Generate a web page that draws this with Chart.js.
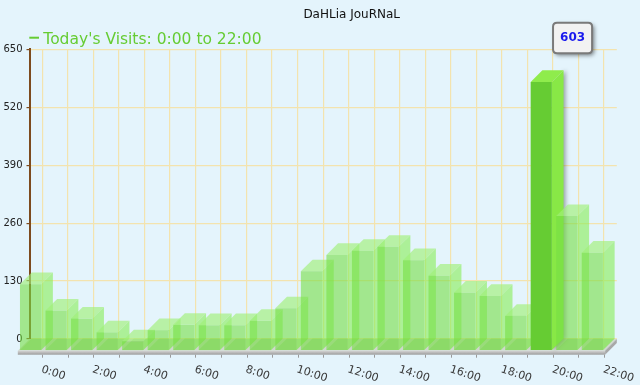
<!DOCTYPE html>
<html><head><meta charset="utf-8">
<script src="https://cdn.jsdelivr.net/npm/chart.js@4.4.1/dist/chart.umd.min.js"></script>
<style>
html,body{margin:0;padding:0;background:#e4f4fc;overflow:hidden}
#wrap{width:640px;height:385px;position:relative}
</style>
</head><body><div id="wrap"><canvas id="c" width="640" height="385"></canvas></div>
<script>
// ---- data ----
const chartTitle = 'DaHLia JouRNaL';
const seriesName = "Today's Visits: 0:00 to 22:00";
const hours = ['0:00','1:00','2:00','3:00','4:00','5:00','6:00','7:00','8:00','9:00','10:00','11:00',
               '12:00','13:00','14:00','15:00','16:00','17:00','18:00','19:00','20:00','21:00','22:00'];
const visits = [149, 90, 72, 41, 21, 46, 58, 57, 57, 67, 95, 178,
                215, 224, 233, 203, 168, 130, 123, 78, 603, 302, 220];
const yTicks = [0, 130, 260, 390, 520, 650];
const labelEvery = 2;

// ---- style ----
const FONT = '"DejaVu Sans", Verdana, sans-serif';
const DX = 11.7, DY = 11.7;
const GRID = '#f3e3ae';
const AXIS = '#7d4b1e';

Chart.Tooltip.positioners.barTop = function(items) {
  if (!items.length) return false;
  const el = items[0].element;
  return { x: el.x + 19.6, y: el.y - 17 };
};

function rr(ctx, x, y, w, h, r) {
  ctx.beginPath();
  ctx.moveTo(x + r, y); ctx.lineTo(x + w - r, y); ctx.quadraticCurveTo(x + w, y, x + w, y + r);
  ctx.lineTo(x + w, y + h - r); ctx.quadraticCurveTo(x + w, y + h, x + w - r, y + h);
  ctx.lineTo(x + r, y + h); ctx.quadraticCurveTo(x, y + h, x, y + h - r);
  ctx.lineTo(x, y + r); ctx.quadraticCurveTo(x, y, x + r, y); ctx.closePath();
}

const deco = {
  id: 'deco',
  beforeDatasetsDraw(chart) {
    const { ctx, chartArea: a, scales: { x } } = chart;
    ctx.save();
    // base slab top face
    ctx.beginPath();
    ctx.moveTo(a.left - DX, a.bottom + DY); ctx.lineTo(a.left, a.bottom);
    ctx.lineTo(a.right, a.bottom); ctx.lineTo(a.right - DX, a.bottom + DY); ctx.closePath();
    ctx.fillStyle = '#cfd8cc'; ctx.fill();
    // front strip
    const g = ctx.createLinearGradient(0, a.bottom + DY, 0, a.bottom + DY + 4);
    g.addColorStop(0, '#d6d6d6'); g.addColorStop(1, '#9c9c9c');
    ctx.fillStyle = g; ctx.fillRect(a.left - DX, a.bottom + DY, a.right - a.left, 4);
    // right side
    ctx.beginPath();
    ctx.moveTo(a.right - DX, a.bottom + DY); ctx.lineTo(a.right, a.bottom);
    ctx.lineTo(a.right, a.bottom + 4); ctx.lineTo(a.right - DX, a.bottom + DY + 4); ctx.closePath();
    ctx.fillStyle = '#a8a8a8'; ctx.fill();
    // tick marks
    ctx.strokeStyle = '#9a9a9a'; ctx.lineWidth = 1;
    x.ticks.forEach((t, i) => {
      const px = Math.round(x.getPixelForTick(i)) + 0.5;
      ctx.beginPath(); ctx.moveTo(px, a.bottom + DY + 4); ctx.lineTo(px, a.bottom + DY + 7); ctx.stroke();
    });
    // rotated labels
    ctx.fillStyle = '#3a3a3a'; ctx.font = '11px ' + FONT;
    ctx.textAlign = 'left'; ctx.textBaseline = 'top';
    hours.forEach((h, i) => {
      if (i % labelEvery) return;
      const px = x.getPixelForTick(i);
      ctx.save(); ctx.translate(px + 1, a.bottom + 25); ctx.rotate(18 * Math.PI / 180);
      ctx.fillText(h, 0, 0); ctx.restore();
    });
    ctx.restore();
  },
  beforeDatasetDraw(chart, args) {
    const ctx = chart.ctx;
    const active = new Set(chart.getActiveElements().map(e => e.index));
    const els = args.meta.data;
    ctx.save();
    // bottom faces
    els.forEach((el, i) => {
      if (active.has(i)) return;
      const p = el.getProps(['x', 'y', 'base', 'width'], true);
      const l = p.x - p.width / 2, r = p.x + p.width / 2;
      ctx.beginPath();
      ctx.moveTo(l - DX, p.base + DY); ctx.lineTo(l, p.base); ctx.lineTo(r, p.base); ctx.lineTo(r - DX, p.base + DY); ctx.closePath();
      ctx.fillStyle = 'rgba(110,205,70,0.35)'; ctx.fill();
    });
    // side faces
    els.forEach((el, i) => {
      const p = el.getProps(['x', 'y', 'base', 'width'], true);
      const r = p.x + p.width / 2;
      ctx.beginPath();
      ctx.moveTo(r - DX, p.y + DY); ctx.lineTo(r, p.y); ctx.lineTo(r, p.base); ctx.lineTo(r - DX, p.base + DY); ctx.closePath();
      if (active.has(i)) {
        ctx.save(); ctx.shadowColor = 'rgba(0,0,0,0.35)'; ctx.shadowBlur = 4; ctx.shadowOffsetX = 2;
        ctx.fillStyle = '#88e846'; ctx.fill(); ctx.restore();
      } else {
        ctx.fillStyle = 'rgba(135,236,85,0.6)'; ctx.fill();
      }
    });
    // top faces
    els.forEach((el, i) => {
      const p = el.getProps(['x', 'y', 'base', 'width'], true);
      const l = p.x - p.width / 2, r = p.x + p.width / 2;
      ctx.beginPath();
      ctx.moveTo(l - DX, p.y + DY); ctx.lineTo(l, p.y); ctx.lineTo(r, p.y); ctx.lineTo(r - DX, p.y + DY); ctx.closePath();
      ctx.fillStyle = active.has(i) ? '#8fec4c' : 'rgba(160,240,120,0.65)';
      ctx.fill();
    });
    ctx.translate(-DX, DY);
  },
  afterDatasetDraw(chart) { chart.ctx.restore(); },
  beforeTooltipDraw(chart, args) {
    const tt = args.tooltip, ctx = chart.ctx;
    ctx.save();
    ctx.shadowColor = 'rgba(0,0,0,0.5)'; ctx.shadowBlur = 4; ctx.shadowOffsetX = 2; ctx.shadowOffsetY = 2;
    rr(ctx, tt.x, tt.y, tt.width, tt.height, 4); ctx.fillStyle = '#f2f2f2'; ctx.fill();
    ctx.restore();
  },
  afterDraw(chart) {
    const ctx = chart.ctx;
    ctx.save();
    ctx.fillStyle = '#111'; ctx.font = '12px ' + FONT; ctx.textAlign = 'center'; ctx.textBaseline = 'alphabetic';
    ctx.fillText(chartTitle, 351.7, 17.5);
    ctx.fillStyle = '#66cc33';
    ctx.fillRect(29.3, 36.7, 9.7, 2);
    ctx.font = '15.5px ' + FONT; ctx.textAlign = 'left';
    ctx.fillText(seriesName, 43.3, 44);
    ctx.restore();
  }
};

const chart = new Chart(document.getElementById('c'), {
  type: 'bar',
  data: {
    labels: hours,
    datasets: [{
      label: seriesName,
      data: visits,
      backgroundColor: 'rgba(119,221,68,0.6)',
      hoverBackgroundColor: '#66cc33',
      borderWidth: 0,
      categoryPercentage: 1,
      barPercentage: 0.83,
      clip: false
    }]
  },
  options: {
    responsive: false,
    animation: false,
    events: [],
    layout: { padding: { top: 49.3, right: 23.2, left: 0, bottom: 0 } },
    scales: {
      x: {
        offset: true,
        grid: { offset: false, color: GRID, lineWidth: 1.2, drawTicks: false },
        border: { display: false },
        ticks: { display: false },
        afterFit(s) { s.height = 46; }
      },
      y: {
        min: 0, max: 650,
        afterBuildTicks(s) { s.ticks = yTicks.map(v => ({ value: v })); },
        ticks: { font: { family: FONT, size: 10 }, color: '#222', padding: 4 },
        grid: { color: GRID, lineWidth: 1.2, tickColor: AXIS, tickLength: 3 },
        border: { display: true, color: AXIS, width: 2 },
        afterFit(s) { s.width = 29.5; }
      }
    },
    plugins: {
      legend: { display: false },
      title: { display: false },
      tooltip: {
        enabled: true,
        position: 'barTop',
        xAlign: 'center', yAlign: 'bottom',
        caretSize: 0, caretPadding: 0,
        displayColors: false,
        backgroundColor: '#f2f2f2',
        borderColor: '#7a7a7a', borderWidth: 2, cornerRadius: 4,
        padding: { top: 8, bottom: 8, left: 7, right: 7 },
        bodyColor: '#1a1aee',
        bodyFont: { family: FONT, size: 12, weight: 'bold' },
        bodyAlign: 'center',
        callbacks: { title: () => '', label: (c) => String(c.raw) }
      }
    }
  },
  plugins: [deco]
});

const peak = visits.indexOf(Math.max(...visits));
chart.setActiveElements([{ datasetIndex: 0, index: peak }]);
chart.tooltip.setActiveElements([{ datasetIndex: 0, index: peak }], { x: 0, y: 0 });
chart.update();
</script>
</body></html>
